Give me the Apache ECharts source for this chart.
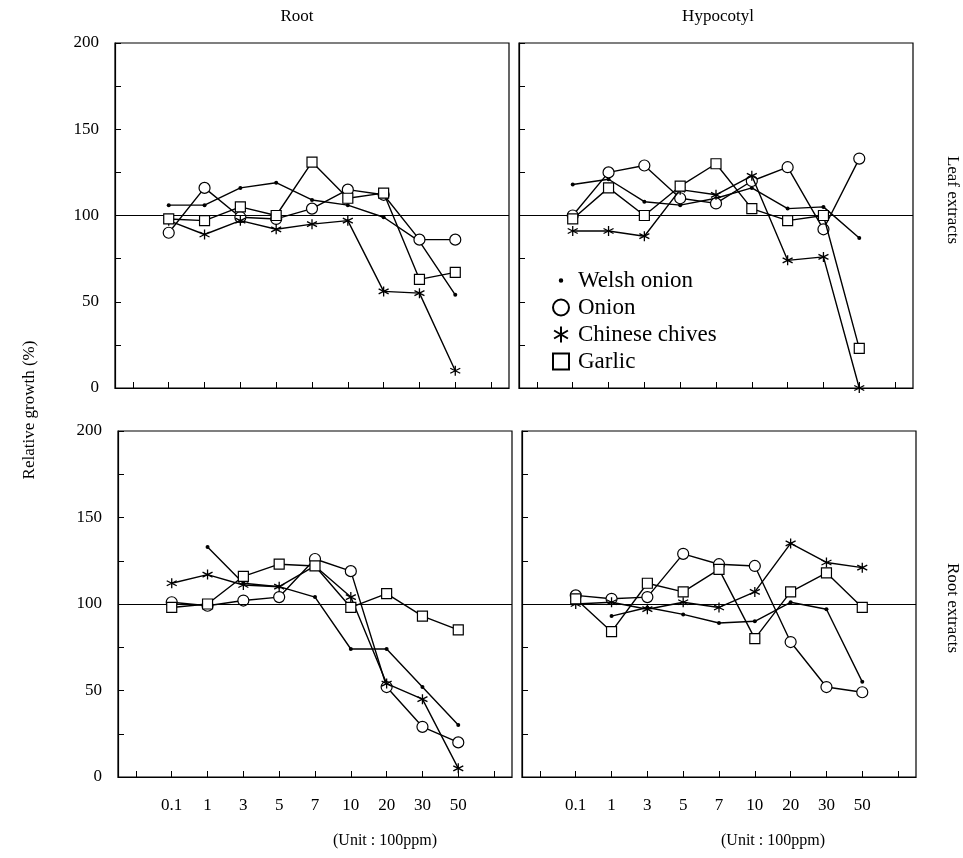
<!DOCTYPE html>
<html>
<head>
<meta charset="utf-8">
<script src="https://cdn.jsdelivr.net/npm/echarts@6/dist/echarts.min.js"></script>
<style>
html,body{margin:0;padding:0;background:#fff;}
#c{width:963px;height:858px;}
</style>
</head>
<body>
<div id="c"></div>
<script>
// ---- data ----
var concentrations = ['0.1','1','3','5','7','10','20','30','50'];
var yTicks = [0, 50, 100, 150, 200];

// Root growth, leaf extracts
var rootLeafWelsh   = [106, 106, 116, 119, 109, 106, 99, 85, 54];
var rootLeafOnion   = [90, 116, 99, 98, 104, 115, 112, 86, 86];
var rootLeafChives  = [97, 89, 97, 92, 95, 97, 56, 55, 10];
var rootLeafGarlic  = [98, 97, 105, 100, 131, 110, 113, 63, 67];

// Hypocotyl growth, leaf extracts
var hypoLeafWelsh   = [118, 121, 108, 106, 110, 116, 104, 105, 87];
var hypoLeafOnion   = [100, 125, 129, 110, 107, 120, 128, 92, 133];
var hypoLeafChives  = [91, 91, 88, 115, 112, 123, 74, 76, 0];
var hypoLeafGarlic  = [98, 116, 100, 117, 130, 104, 97, 100, 23];

// Root growth, root extracts
var rootRootWelsh   = [null, 133, 112, 110, 104, 74, 74, 52, 30];
var rootRootOnion   = [101, 99, 102, 104, 126, 119, 52, 29, 20];
var rootRootChives  = [112, 117, 111, 110, 122, 104, 54, 45, 5];
var rootRootGarlic  = [98, 100, 116, 123, 122, 98, 106, 93, 85];

// Hypocotyl growth, root extracts
var hypoRootWelsh   = [null, 93, 98, 94, 89, 90, 101, 97, 55];
var hypoRootOnion   = [105, 103, 104, 129, 123, 122, 78, 52, 49];
var hypoRootChives  = [100, 101, 97, 101, 98, 107, 135, 124, 121];
var hypoRootGarlic  = [103, 84, 112, 107, 120, 80, 107, 118, 98];

var seriesNames = ['Welsh onion', 'Onion', 'Chinese chives', 'Garlic'];

// ---- build ----
var FONT = '"Liberation Serif", "DejaVu Serif", serif';
var starPath = 'path://M5 0 L5 10 M0.67 2.5 L9.33 7.5 M0.67 7.5 L9.33 2.5';
var dotPath = 'path://M0 0 M10 10 M3.6 5 A1.4 1.4 0 1 0 6.4 5 A1.4 1.4 0 1 0 3.6 5 Z';
var cats = [' '].concat(concentrations).concat(['  ']);
function pad(arr){ return ['-'].concat(arr.map(function(v){return v===null?'-':v;})).concat(['-']); }

var grids = [
  {left:115, top:43, width:394, height:345},
  {left:519, top:43, width:394, height:345},
  {left:118, top:431, width:394, height:346},
  {left:522, top:431, width:394, height:346}
];
var panelData = [
  [rootLeafWelsh, rootLeafOnion, rootLeafChives, rootLeafGarlic],
  [hypoLeafWelsh, hypoLeafOnion, hypoLeafChives, hypoLeafGarlic],
  [rootRootWelsh, rootRootOnion, rootRootChives, rootRootGarlic],
  [hypoRootWelsh, hypoRootOnion, hypoRootChives, hypoRootGarlic]
];

var styles = [
  {symbol:'circle', symbolSize:4, itemStyle:{color:'#000', borderColor:'#000', borderWidth:0}},
  {symbol:'circle', symbolSize:11, itemStyle:{color:'#fff', borderColor:'#000', borderWidth:1.2}},
  {symbol:starPath, symbolSize:10, itemStyle:{color:'rgba(0,0,0,0)', borderColor:'#000', borderWidth:1.3}},
  {symbol:'rect', symbolSize:10, itemStyle:{color:'#fff', borderColor:'#000', borderWidth:1.2}}
];

var xAxes = [], yAxes = [], series = [];
grids.forEach(function(g, gi){
  g.show = true; g.borderColor = '#000'; g.borderWidth = 1.2; g.backgroundColor = 'transparent';
  xAxes.push({
    type:'category', gridIndex:gi, data:cats, boundaryGap:true,
    axisLine:{show:true, lineStyle:{color:'#000', width:1.2}},
    axisTick:{show:true, inside:true, length:6, alignWithLabel:true, interval:0, lineStyle:{color:'#000'}},
    axisLabel:{show: gi>=2, interval:0, margin:20, color:'#000', fontSize:17, fontFamily:FONT},
    splitLine:{show:false}
  });
  yAxes.push({
    type:'value', gridIndex:gi, min:0, max:200, interval:25,
    axisLine:{show:true, lineStyle:{color:'#000', width:1.2}},
    axisTick:{show:true, inside:true, length:6, lineStyle:{color:'#000'}},
    axisLabel:{show: gi%2===0, margin:16, color:'#000', fontSize:17, fontFamily:FONT,
      formatter:function(v){ return yTicks.indexOf(v) >= 0 ? String(v) : ''; }},
    splitLine:{show:false}
  });
  panelData[gi].forEach(function(arr, si){
    var s = {
      name: seriesNames[si], type:'line', xAxisIndex:gi, yAxisIndex:gi,
      data: pad(arr), connectNulls:false, animation:false,
      symbol: styles[si].symbol, symbolSize: styles[si].symbolSize, showSymbol:true,
      itemStyle: styles[si].itemStyle,
      lineStyle:{color:'#000', width:1.4},
      z: 3 + si
    };
    if (si === 0) {
      s.markLine = {silent:true, symbol:['none','none'], label:{show:false},
        lineStyle:{color:'#000', type:'solid', width:1.2}, data:[{yAxis:100}], animation:false};
    }
    series.push(s);
  });
});

var option = {
  backgroundColor:'#fff',
  animation:false,
  grid: grids,
  xAxis: xAxes,
  yAxis: yAxes,
  series: series,
  legend: {
    orient:'vertical', left:547, top:264, itemGap:4, itemWidth:16, itemHeight:16,
    selectedMode:false,
    textStyle:{color:'#000', fontSize:23, fontFamily:FONT, padding:[0,0,0,4]},
    data:[
      {name:'Welsh onion', icon:dotPath},
      {name:'Onion', icon:'circle'},
      {name:'Chinese chives', icon:starPath},
      {name:'Garlic', icon:'rect'}
    ]
  },
  graphic: [
    {type:'text', style:{text:'Root', font:'17px '+FONT, fill:'#000', x:297, y:8, textAlign:'center'}},
    {type:'text', style:{text:'Hypocotyl', font:'17px '+FONT, fill:'#000', x:718, y:8, textAlign:'center'}},
    {type:'text', x:30, y:410, rotation:Math.PI/2, style:{text:'Relative growth (%)', font:'17px '+FONT, fill:'#000', textAlign:'center', textVerticalAlign:'middle'}},
    {type:'text', x:952, y:200, rotation:-Math.PI/2, style:{text:'Leaf extracts', font:'17px '+FONT, fill:'#000', textAlign:'center', textVerticalAlign:'middle'}},
    {type:'text', x:952, y:608, rotation:-Math.PI/2, style:{text:'Root extracts', font:'17px '+FONT, fill:'#000', textAlign:'center', textVerticalAlign:'middle'}},
    {type:'text', style:{text:'(Unit : 100ppm)', font:'16px '+FONT, fill:'#000', x:385, y:833, textAlign:'center'}},
    {type:'text', style:{text:'(Unit : 100ppm)', font:'16px '+FONT, fill:'#000', x:773, y:833, textAlign:'center'}}
  ]
};
var chart = echarts.init(document.getElementById('c'), null, {renderer:'canvas'});
chart.setOption(option);
</script>
</body>
</html>
